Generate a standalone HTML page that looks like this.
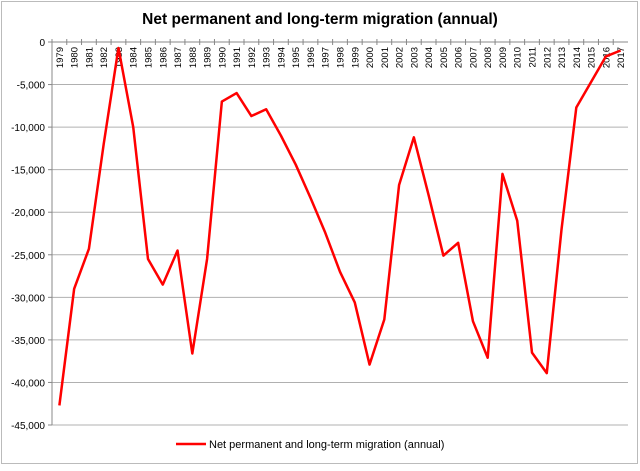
<!DOCTYPE html>
<html><head><meta charset="utf-8"><style>
body{margin:0;background:#fff;font-family:"Liberation Sans",sans-serif}
</style></head><body>
<svg id="c" width="640" height="466" xmlns="http://www.w3.org/2000/svg">
<rect x="1.5" y="1.5" width="636" height="462" fill="#fff" stroke="#bbb"/>
<text x="320" y="24" text-anchor="middle" font-size="15.5" font-weight="bold" fill="#000">Net permanent and long-term migration (annual)</text>
<g id="grid"></g><g id="yl"></g><g id="xl"></g><g id="series"></g>
<g>
<line x1="176" y1="444" x2="206" y2="444" stroke="#f00" stroke-width="2.5"/>
<text x="209" y="448" font-size="11" fill="#000">Net permanent and long-term migration (annual)</text>
</g>
</svg>
<script>
const years=[1979,1980,1981,1982,1983,1984,1985,1986,1987,1988,1989,1990,1991,1992,1993,1994,1995,1996,1997,1998,1999,2000,2001,2002,2003,2004,2005,2006,2007,2008,2009,2010,2011,2012,2013,2014,2015,2016,2017];
const values=[-42700,-29000,-24300,-12000,-700,-10000,-25500,-28500,-24500,-36600,-25500,-7000,-6000,-8700,-7900,-11000,-14400,-18300,-22400,-27000,-30600,-37900,-32600,-16800,-11200,-18000,-25100,-23600,-32800,-37100,-15500,-21000,-36500,-38900,-22000,-7700,-4700,-1700,-1000];
const yTicks=[0,-5000,-10000,-15000,-20000,-25000,-30000,-35000,-40000,-45000];
const NS="http://www.w3.org/2000/svg";
const L=52,R=628,T=42,B=425;
const y=v=>T+(0-v)/45000*(B-T);
const bw=(R-L)/years.length;
const x=i=>L+bw*(i+0.5);
function mk(t,a,p){const e=document.createElementNS(NS,t);for(const k in a)e.setAttribute(k,a[k]);document.getElementById(p).appendChild(e);return e;}
yTicks.forEach(v=>{
 const g=mk('line',{x1:L,x2:R,y1:y(v),y2:y(v),stroke:v===0?'#888':'#b0b0b0','stroke-width':1},'grid');
 
 
 const tk=mk('line',{x1:L-4,x2:L,y1:y(v),y2:y(v),stroke:'#888'},'grid');
 
 
 const t=mk('text',{x:L-7,y:y(v)+4,'text-anchor':'end','font-size':10,fill:'#000'},'yl');
 t.textContent=v===0?'0':'-'+Math.abs(v).toLocaleString('en-US');
 
 
});
const ax=mk('line',{x1:L,x2:L,y1:T,y2:B,stroke:'#888'},'grid');


years.forEach((yr,i)=>{
 const tk=mk('line',{x1:L+bw*i,x2:L+bw*i,y1:T-3,y2:T+3,stroke:'#888'},'grid');
 
 
 const t=mk('text',{x:0,y:0,'font-size':9.5,fill:'#000','text-anchor':'end',transform:`translate(${x(i)+3.5},${T+5}) rotate(-90)`},'xl');
 t.textContent=yr;
 
 
});
const p=mk('polyline',{points:values.map((v,i)=>x(i)+','+y(v)).join(' '),fill:'none',stroke:'#f00','stroke-width':2.5,'stroke-linejoin':'round'},'series');


</script>
</body></html>
